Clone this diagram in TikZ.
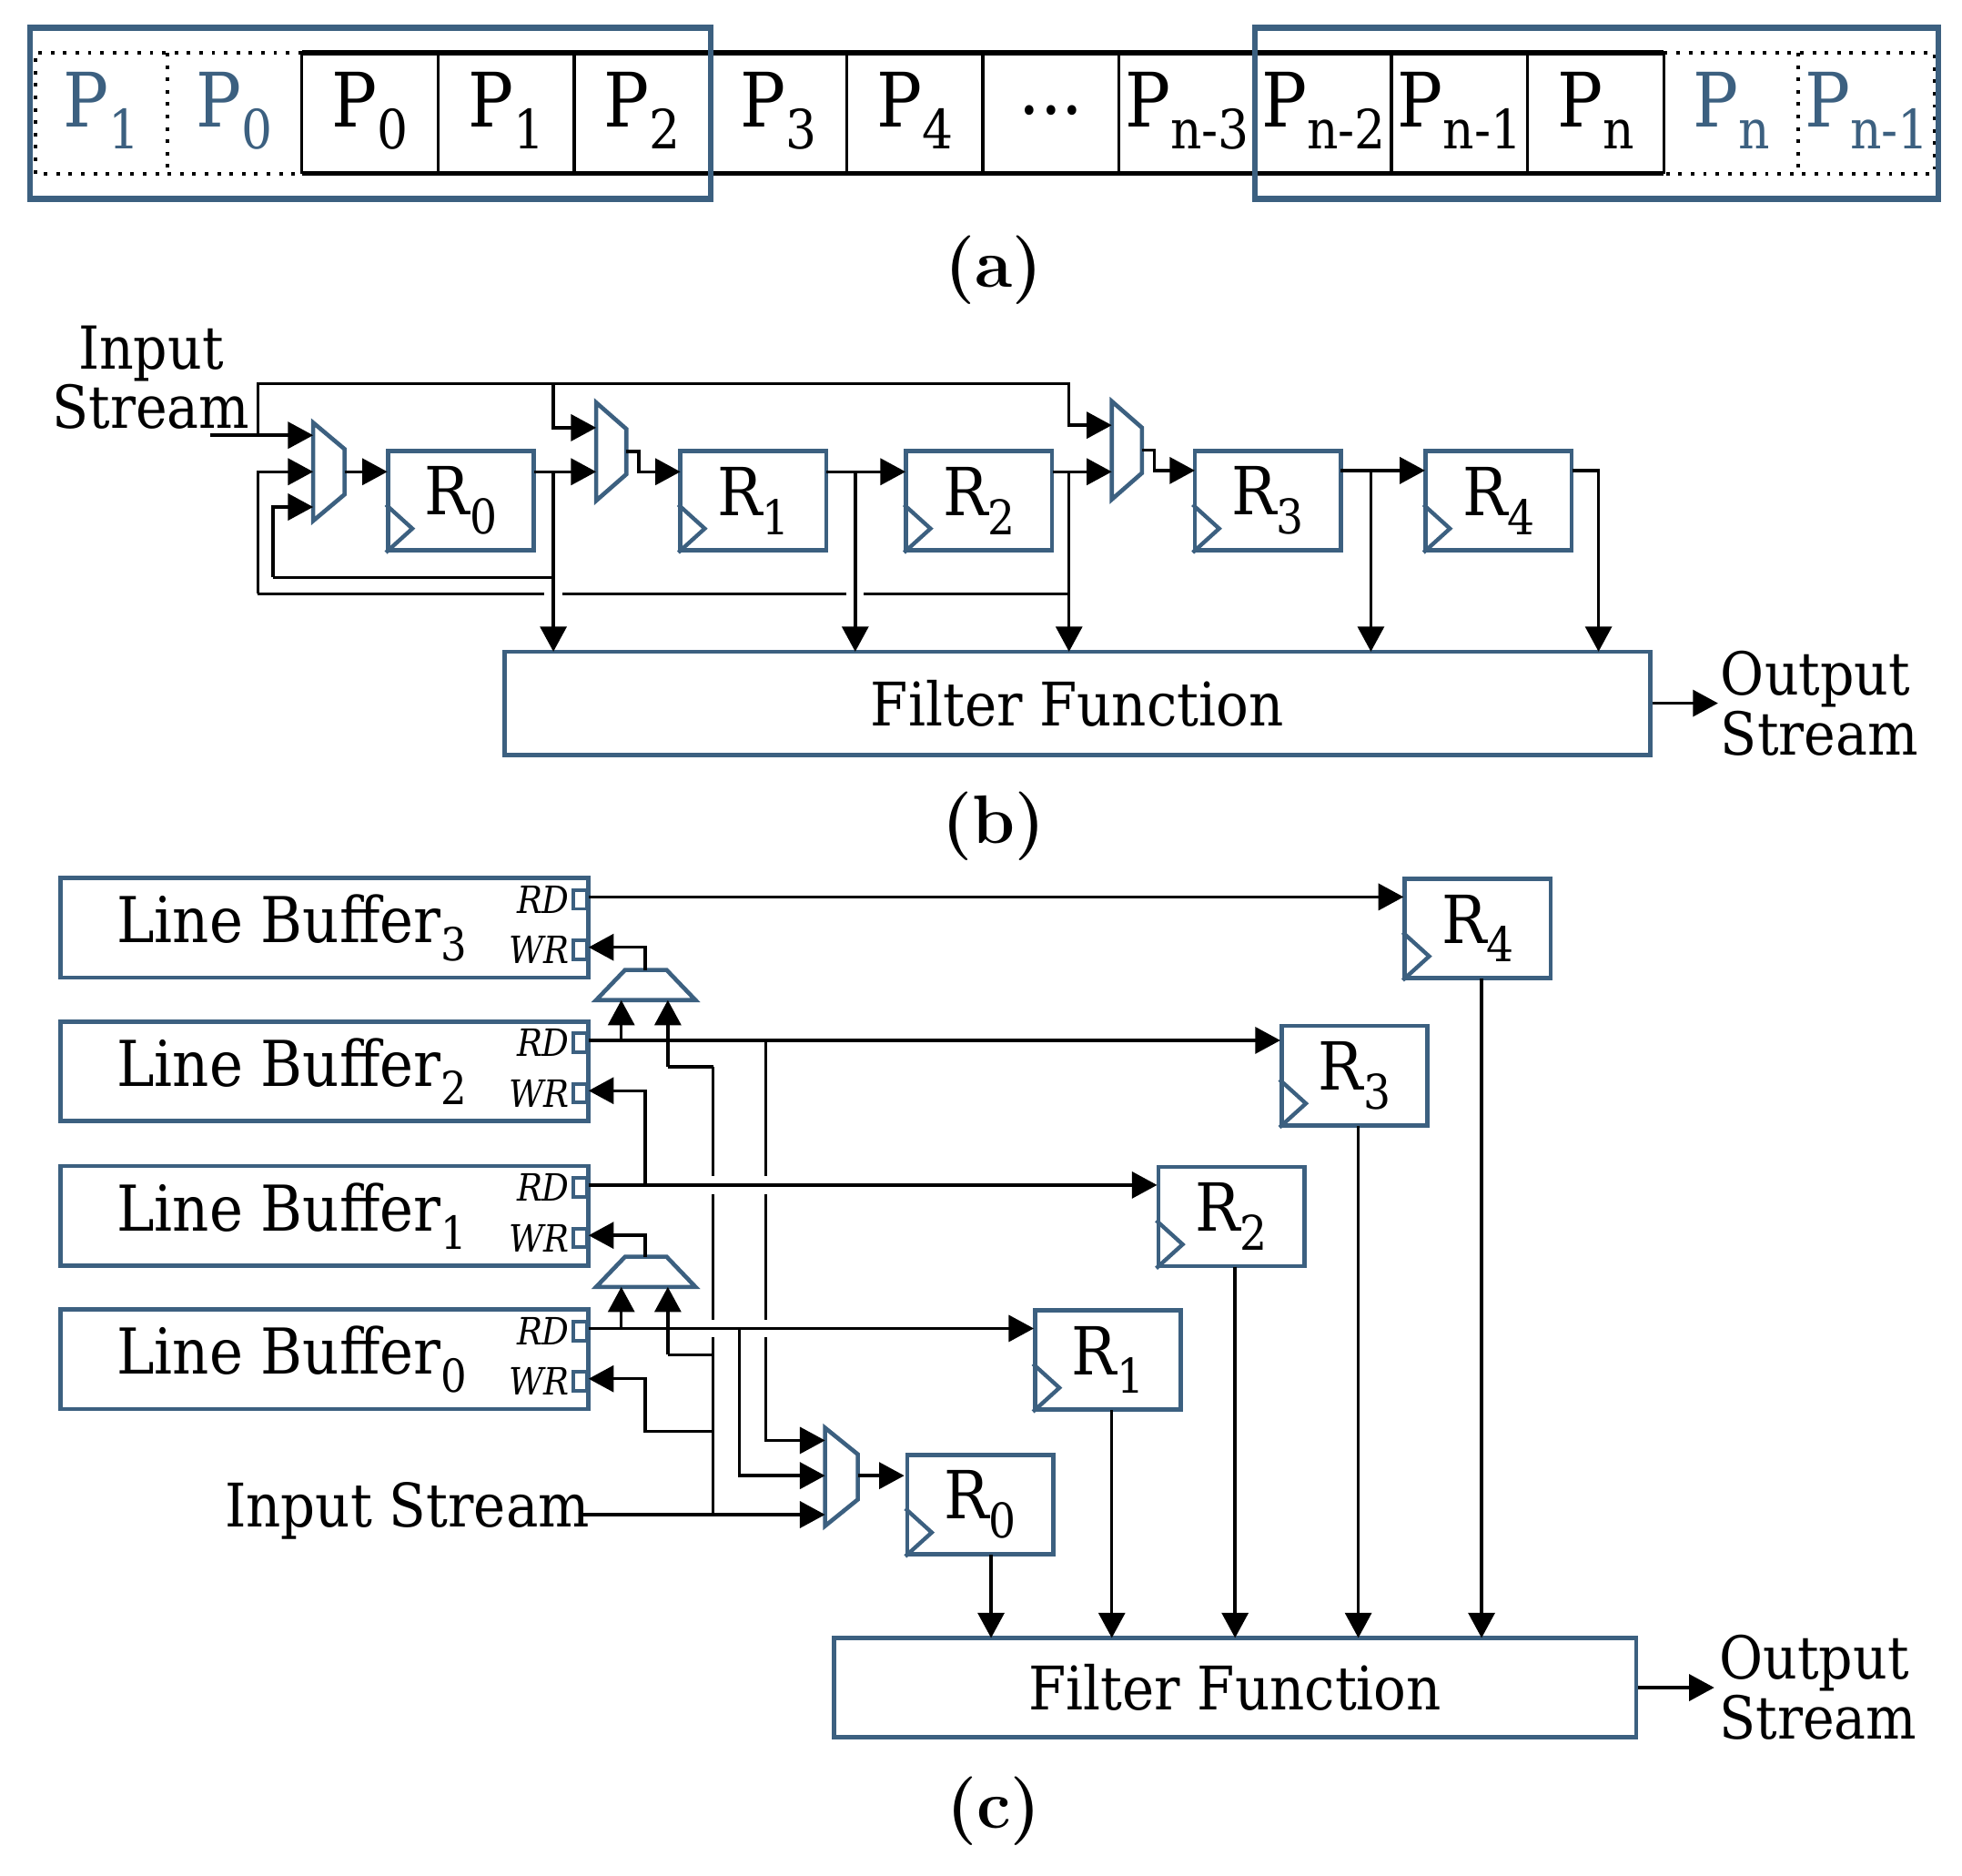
\documentclass[tikz,border=0pt]{standalone}
\usepackage{fontspec}
\usepackage{graphicx}
\setmainfont{DejaVu Serif Condensed}
\newfontfamily\lmr{Latin Modern Roman}
\usetikzlibrary{arrows.meta}
\definecolor{blu}{RGB}{60,96,128}
\newcommand\lsub[1]{\raisebox{-0.55ex}{\scalebox{0.72}{#1}}}
\newcommand\clk[1]{\draw[blu,line width=0.9pt] ([yshift=3.8mm]#1.south west) -- ([xshift=2.1mm,yshift=1.9mm]#1.south west) -- (#1.south west);}
\begin{document}
\begin{tikzpicture}[x=0.1mm,y=-0.1mm,line width=0.7pt,
  >={Triangle[length=2mm,width=2.1mm]},
  bx/.style={draw=blu,line width=0.95pt},
  reg/.style={bx,minimum width=11.6mm,minimum height=7.9mm,inner sep=0pt,font=\fontsize{15}{15}\selectfont},
  cell/.style={font=\fontsize{17}{17}\selectfont,inner sep=0pt},
  lbl/.style={font=\lmr\bfseries\fontsize{15.5}{15}\selectfont},
  txt/.style={font=\fontsize{13.4}{15.5}\selectfont,inner sep=0pt},
  port/.style={font=\itshape\fontsize{8.5}{9}\selectfont,inner sep=0pt,anchor=east}]
\useasboundingbox (0,0) rectangle (1560,1491);

% ---------------- (a)
\draw[line width=1.1pt] (240,42) -- (1323,42) (240,138) -- (1323,138);
\foreach \i in {0,...,10}{\draw (240+\i*108.3,42) -- (240+\i*108.3,138);}
\draw[dotted,line width=0.8pt] (240,42) -- (28,42) -- (28,138) -- (240,138) (133,42) -- (133,138);
\draw[dotted,line width=0.8pt] (1323,42) -- (1538,42) -- (1538,138) -- (1323,138) (1430,42) -- (1430,138);
\foreach \x/\t in {294.2/{P\lsub{0}},402.5/{P\lsub{1}},510.8/{P\lsub{2}},619.1/{P\lsub{3}},727.4/{P\lsub{4}},835.7/{...},944/{P\lsub{n-3}},1052.3/{P\lsub{n-2}},1160.6/{P\lsub{n-1}},1268.9/{P\lsub{n}}}
  {\node[cell] (c\x) at (\x,88) {\t};}
\foreach \x/\t in {80.5/{P\lsub{1}},186.5/{P\lsub{0}},1376.5/{P\lsub{n}},1484.5/{P\lsub{n-1}}}
  {\node[cell,text=blu] (d\x) at (\x,88) {\t};}
\draw[blu,line width=1.3pt] (24,22) rectangle (565,158);
\draw[blu,line width=1.3pt] (998,22) rectangle (1541,158);
\node[lbl] (la) at (790,215) {(a)};

% ---------------- (b)
\node[txt,align=center] (inb) at (120,300) {Input\\[-2pt]Stream};
\node[reg] (b0) at (366.5,398) {R\lsub{0}}; \clk{b0}
\node[reg] (b1) at (599,398) {R\lsub{1}}; \clk{b1}
\node[reg] (b2) at (778.5,398) {R\lsub{2}}; \clk{b2}
\node[reg] (b3) at (1008,398) {R\lsub{3}}; \clk{b3}
\node[reg] (b4) at (1191.5,398) {R\lsub{4}}; \clk{b4}
\node[bx,minimum width=91.1mm,minimum height=8.2mm,inner sep=0pt,font=\fontsize{13.6}{15}\selectfont] (fb) at (856.5,559) {Filter Function};
\draw[bx] (249,336) -- (274,357) -- (274,393) -- (249,414) -- cycle;
\draw[bx] (474,320) -- (498,341) -- (498,377) -- (474,398) -- cycle;
\draw[bx] (884,319) -- (908,340) -- (908,376) -- (884,397) -- cycle;
\draw[->] (167,346) -- (249,346);
\draw[->] (205,346) |- (850,305) |- (884,338);
\draw[->] (440,305) |- (474,340);
\draw[->] (205,472) |- (249,375);
\draw (205,472) -- (433,472) (447,472) -- (673,472) (687,472) -- (850,472);
\draw[->] (217,459) |- (249,403);
\draw (217,459) -- (440,459);
\draw[->] (274,375) -- (308,375);
\draw[->] (425,375) -- (474,375);
\draw[->] (440,375) -- (440,518);
\draw[->] (498,359) -- (508,359) -- (508,375) -- (541,375);
\draw[->] (657,375) -- (720,375);
\draw[->] (680,375) -- (680,518);
\draw[->] (837,375) -- (884,375);
\draw[->] (850,375) -- (850,518);
\draw[->] (908,358) -- (918,358) -- (918,374) -- (950,374);
\draw[->] (1066,374) -- (1133,374);
\draw[->] (1090,374) -- (1090,518);
\draw[->] (1250,374) -| (1271,518);
\draw[->] (fb.east) -- (1366,559);
\node[txt,anchor=west,align=left] (ob) at (1367,559) {Output\\[-2pt]Stream};
\node[lbl] (lb) at (790,657) {(b)};

% ---------------- (c)
\foreach \n/\y/\s in {3/737.5/3,2/851.5/2,1/966.5/1,0/1080.5/0}{
  \node[bx,minimum width=42mm,minimum height=7.9mm,inner sep=0pt] (lb\n) at (258,\y) {};
  \node[txt,font=\fontsize{14.3}{15}\selectfont] (lt\n) at (232,\y) {Line Buffer\lsub{\s}};
  \node[port] (rd\n) at (454,\y-22.5) {RD};
  \node[port] (wr\n) at (454,\y+17.5) {WR};
  \draw[blu,line width=0.8pt] (456,\y-30) rectangle (467,\y-15);
  \draw[blu,line width=0.8pt] (456,\y+10) rectangle (467,\y+25);
}
\node[reg] (c0) at (779.5,1196) {R\lsub{0}}; \clk{c0}
\node[reg] (c1) at (881,1081) {R\lsub{1}}; \clk{c1}
\node[reg] (c2) at (979,967) {R\lsub{2}}; \clk{c2}
\node[reg] (c3) at (1077,855) {R\lsub{3}}; \clk{c3}
\node[reg] (c4) at (1175,738) {R\lsub{4}}; \clk{c4}
\node[bx,minimum width=63.8mm,minimum height=7.9mm,inner sep=0pt,font=\fontsize{13.6}{15}\selectfont] (fc) at (982,1341.5) {Filter Function};
\draw[bx] (474,795) -- (497,771) -- (530,771) -- (553,795) -- cycle;
\draw[bx] (474,1023) -- (497,999) -- (530,999) -- (553,1023) -- cycle;
\draw[bx] (656,1135) -- (682,1156) -- (682,1192) -- (656,1213) -- cycle;
\draw[->] (468,713) -- (1116,713);
\draw[->] (513,771) |- (468,753);
\draw[->] (468,827) -- (1018,827);
\draw[->] (494,827) -- (494,795);
\draw[->] (531,848) -- (531,795);
\draw (531,848) -- (567,848);
\draw (567,848) -- (567,935) (567,949) -- (567,1049) (567,1063) -- (567,1204);
\draw (609,827) -- (609,935) (609,949) -- (609,1049);
\draw[->] (609,1063) |- (656,1145);
\draw[->] (513,942) |- (468,867);
\draw[->] (468,942) -- (920,942);
\draw[->] (513,999) |- (468,982);
\draw[->] (468,1056) -- (822,1056);
\draw[->] (494,1056) -- (494,1023);
\draw[->] (531,1077) -- (531,1023);
\draw (531,1077) -- (567,1077);
\draw[->] (567,1138) -- (513,1138) -- (513,1096) -- (468,1096);
\draw[->] (588,1056) |- (656,1173);
\node[txt,anchor=east,font=\fontsize{13.6}{15}\selectfont] (ins) at (470,1201) {Input Stream};
\draw[->] (460,1204) -- (656,1204);
\draw[->] (682,1173) -- (719,1173);
\draw[->] (788,1236) -- (788,1302);
\draw[->] (884,1121) -- (884,1302);
\draw[->] (982,1007) -- (982,1302);
\draw[->] (1080,895) -- (1080,1302);
\draw[->] (1178,778) -- (1178,1302);
\draw[->] (fc.east) -- (1363,1341.5);
\node[txt,anchor=west,align=left] (oc) at (1366,1341.5) {Output\\[-2pt]Stream};
\node[lbl] (lc) at (790,1440) {(c)};
\end{tikzpicture}
\end{document}
